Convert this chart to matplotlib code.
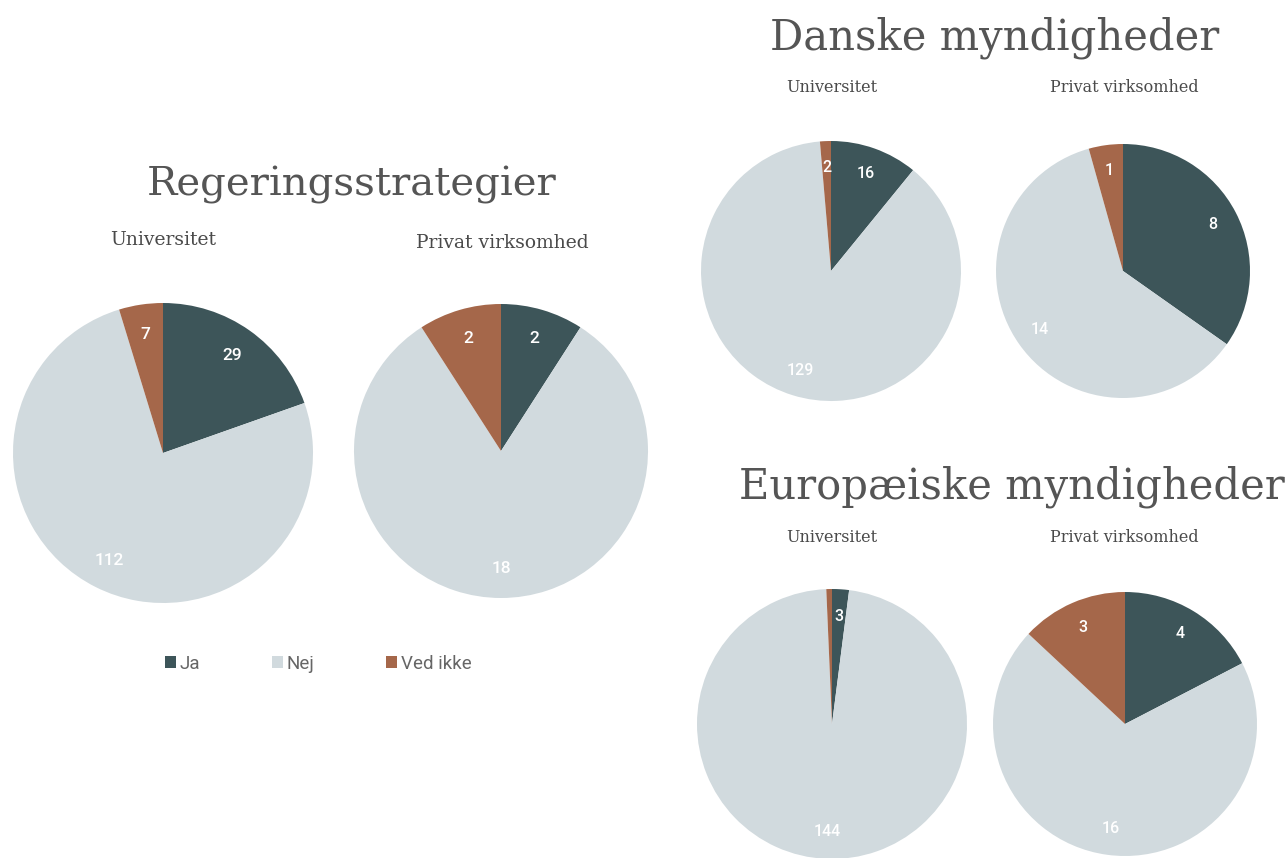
import matplotlib.pyplot as plt

W, H = 1287, 858

categories = ["Ja", "Nej", "Ved ikke"]
colors = ["#3d5559", "#d1dade", "#a5674a"]

# counts for Ja, Nej, Ved ikke
reg_uni = [29, 112, 7]
reg_priv = [2, 18, 2]
dk_uni = [16, 129, 2]
dk_priv = [8, 14, 1]
eu_uni = [3, 144, 1]
eu_priv = [4, 16, 3]

group_titles = ["Regeringsstrategier", "Danske myndigheder", "Europæiske myndigheder"]
sub_titles = ["Universitet", "Privat virksomhed"]

serif = "DejaVu Serif"
sans = "Roboto"

fig = plt.figure(figsize=(W / 100, H / 100), dpi=100)
fig.patch.set_facecolor("white")


def px_axes(cx, cy, r):
    ax = fig.add_axes([(cx - r) / W, 1 - (cy + r) / H, 2 * r / W, 2 * r / H])
    ax.set_aspect("equal")
    return ax


def draw_pie(values, cx, cy, r, fs):
    ax = px_axes(cx, cy, r)
    total = sum(values)
    labels = [str(v) if v / total > 0.01 else "" for v in values]
    wedges, texts = ax.pie(
        values,
        colors=colors,
        startangle=90,
        counterclock=False,
        labels=labels,
        labeldistance=0.8,
        radius=1.0,
        wedgeprops=dict(linewidth=0),
        textprops=dict(color="white", fontsize=fs, family=sans, weight="medium"),
    )
    for t in texts:
        t.set_ha("center")
        t.set_va("center")
    ax.set_xlim(-1, 1)
    ax.set_ylim(-1, 1)
    return wedges


def txt(x, y, s, fs, family=serif, color="#555555"):
    fig.text(x / W, 1 - y / H, s, fontsize=fs, family=family, color=color,
             ha="center", va="center")


sub_color = "#4a4a4a"

# Regeringsstrategier
txt(352, 185, group_titles[0], 29)
txt(163, 240, sub_titles[0], 13.5, color=sub_color)
txt(502, 243, sub_titles[1], 13.5, color=sub_color)
wedges = draw_pie(reg_uni, 163, 453, 150, 12.5)
draw_pie(reg_priv, 501, 451, 147, 12.5)

# Danske myndigheder
txt(995, 38, group_titles[1], 30)
txt(832, 88, sub_titles[0], 11.5, color=sub_color)
txt(1124, 88, sub_titles[1], 11.5, color=sub_color)
draw_pie(dk_uni, 831, 271, 130, 11.5)
draw_pie(dk_priv, 1123, 271, 127, 11.5)

# Europæiske myndigheder
txt(1012, 487, group_titles[2], 30)
txt(832, 537, sub_titles[0], 11.5, color=sub_color)
txt(1124, 537, sub_titles[1], 11.5, color=sub_color)
draw_pie(eu_uni, 832, 724, 135, 11.5)
draw_pie(eu_priv, 1125, 724, 132, 11.5)

leg = fig.legend(
    wedges, categories,
    loc="center left",
    bbox_to_anchor=(148 / W, 1 - 664 / H),
    ncol=3,
    frameon=False,
    handlelength=0.6,
    handleheight=0.6,
    handletextpad=0.2,
    columnspacing=3.8,
    prop=dict(family=sans, size=13.5),
)
for t in leg.get_texts():
    t.set_color("#666666")

fig.savefig("out.png", dpi=100, facecolor="white")
